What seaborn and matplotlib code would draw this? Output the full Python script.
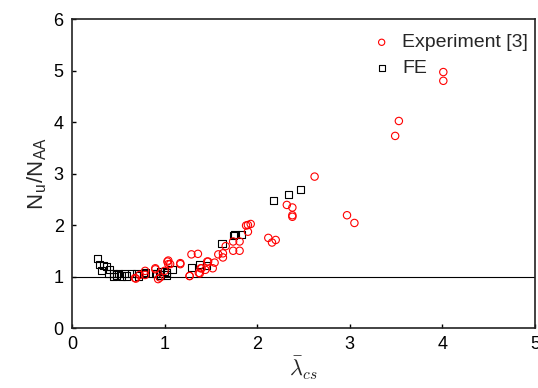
import matplotlib
matplotlib.use('Agg')
import matplotlib.pyplot as plt
import seaborn as sns
import pandas as pd

sns.set_style('white')
plt.rcParams['font.family'] = ['Liberation Sans', 'DejaVu Sans']
plt.rcParams['mathtext.fontset'] = 'cm'

# Experiment [3] data (red circles)
exp_x = [4.01, 4.01, 3.53, 3.49, 2.62, 2.97, 3.05, 2.32, 2.38, 2.38, 2.38, 2.12, 2.20, 2.16,
         1.88, 1.90, 1.93, 1.90, 1.74, 1.81, 1.74, 1.81, 1.66, 1.58, 1.63, 1.63, 1.54, 1.52,
         1.47, 1.40, 1.38, 1.36, 1.29, 1.46, 1.39, 1.37, 1.27, 1.44, 1.17, 1.17, 1.04, 1.04,
         1.06, 1.03, 0.90, 0.93, 0.95, 0.79, 0.79, 0.73, 0.68, 0.69, 1.00, 0.90, 1.27]
exp_y = [4.97, 4.80, 4.02, 3.73, 2.94, 2.19, 2.04, 2.39, 2.34, 2.19, 2.16, 1.75, 1.71, 1.66,
         1.99, 2.00, 2.02, 1.87, 1.68, 1.68, 1.50, 1.50, 1.59, 1.43, 1.45, 1.37, 1.27, 1.16,
         1.29, 1.16, 1.06, 1.44, 1.43, 1.29, 1.16, 1.07, 1.01, 1.13, 1.26, 1.24, 1.31, 1.24,
         1.24, 1.29, 1.14, 0.95, 0.98, 1.03, 1.11, 1.03, 0.97, 0.96, 1.11, 1.16, 1.01]

# FE data (black squares)
fe_x = [2.47, 2.34, 2.18, 1.83, 1.76, 1.74, 1.62, 1.45, 1.38, 1.29, 1.08, 1.02, 0.96, 0.91,
        0.96, 1.02, 0.28, 0.30, 0.34, 0.37, 0.32, 0.41, 0.40, 0.45, 0.45, 0.48, 0.50, 0.53,
        0.57, 0.59, 0.64, 0.70, 0.72, 0.77, 0.79, 0.90, 0.95, 1.00]
fe_y = [2.69, 2.60, 2.47, 1.82, 1.82, 1.80, 1.64, 1.22, 1.24, 1.17, 1.13, 1.07, 1.09, 1.06,
        1.03, 1.03, 1.35, 1.24, 1.22, 1.20, 1.11, 1.13, 1.05, 1.06, 1.00, 1.03, 1.06, 1.01,
        1.06, 1.01, 1.05, 1.05, 1.01, 1.05, 1.07, 1.06, 1.03, 1.09]

exp_df = pd.DataFrame({'x': exp_x, 'y': exp_y})
fe_df = pd.DataFrame({'x': fe_x, 'y': fe_y})

fig = plt.figure(figsize=(5.38, 3.88), dpi=100)
ax = fig.add_axes([0.1338, 0.1546, 0.8606, 0.7964])

ax.axhline(1, color='black', linewidth=0.8, zorder=1)
sns.scatterplot(data=exp_df, x='x', y='y', marker='o', s=28, facecolor='none',
                edgecolor='red', linewidth=0.8, label='Experiment [3]', ax=ax, zorder=3)
sns.scatterplot(data=fe_df, x='x', y='y', marker='s', s=26, facecolor='none',
                edgecolor='black', linewidth=0.8, label='FE', ax=ax, zorder=2)

ax.set_xlim(0, 5)
ax.set_ylim(0, 6)
ax.set_xticks([0, 1, 2, 3, 4, 5])
ax.set_yticks([0, 1, 2, 3, 4, 5, 6])
ax.tick_params(direction='in', length=3, width=1, labelsize=13, pad=6,
               bottom=True, left=True, top=False, right=False, colors='black')
for sp in ax.spines.values():
    sp.set_color('#222222')
    sp.set_linewidth(1.2)

ax.set_xlabel(r'$\bar{\lambda}_{cs}$', fontsize=16, labelpad=1)
ax.set_ylabel(r'N$_\mathregular{u}$/N$_\mathregular{AA}$', fontsize=16, labelpad=3)

ax.legend(loc='upper right', bbox_to_anchor=(1.01, 0.99), frameon=False, fontsize=14,
          markerscale=0.85, handlelength=1.4, handletextpad=0.35, borderaxespad=0.2,
          labelspacing=0.4)

fig.savefig('out.png', dpi=100)
